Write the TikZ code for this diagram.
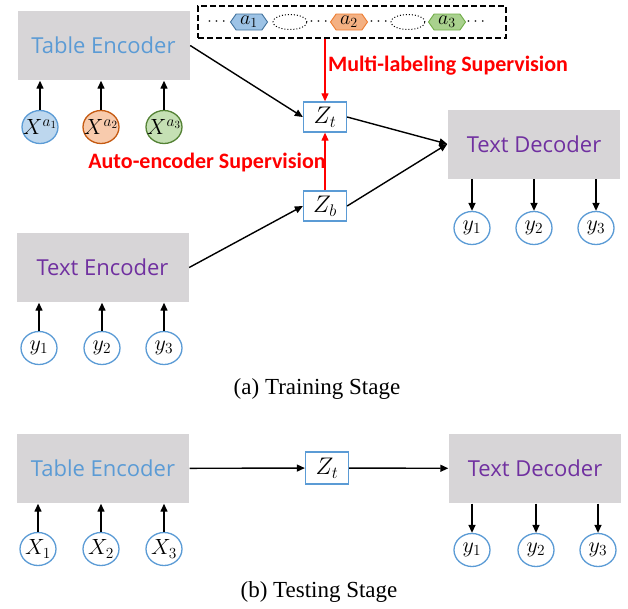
\RequirePackage{fix-cm}
\documentclass[tikz,border=0pt]{standalone}
\usepackage{amsmath}
\usepackage{fontspec}
\setmainfont{Liberation Serif}
\newfontfamily\boxfont{Open Sans}
\newfontfamily\supfont{Carlito}
\usetikzlibrary{arrows.meta}
\usetikzlibrary{shapes.geometric,shapes.symbols,positioning}

\definecolor{tblue}{RGB}{91,155,213}
\definecolor{tpurple}{RGB}{112,48,160}
\definecolor{boxgray}{RGB}{215,213,215}
\definecolor{supred}{RGB}{255,0,0}
\definecolor{xafill}{RGB}{189,215,238}
\definecolor{xbfill}{RGB}{248,203,173}
\definecolor{xbline}{RGB}{197,90,17}
\definecolor{xcfill}{RGB}{197,224,180}
\definecolor{xcline}{RGB}{84,130,53}
\definecolor{hafill}{RGB}{157,195,230}
\definecolor{haline}{RGB}{65,113,156}
\definecolor{hbfill}{RGB}{244,177,131}
\definecolor{hbline}{RGB}{237,125,49}
\definecolor{hcfill}{RGB}{169,209,142}
\definecolor{hcline}{RGB}{112,173,71}

\begin{document}
\begin{tikzpicture}[x=1pt,y=-1pt,->,>={Triangle[length=8pt,width=7pt]},line width=1.4pt,
  module/.style={fill=boxgray,minimum width=172pt,minimum height=69pt,font=\boxfont\fontsize{22}{26}\selectfont},
  var/.style={ellipse,draw=tblue,line width=1.3pt,minimum width=36pt,minimum height=33pt,inner sep=-6pt,font=\fontsize{22}{24}\selectfont},
  latent/.style={draw=tblue,fill=white,line width=1.3pt,minimum width=43pt,minimum height=30pt,inner sep=0pt,font=\fontsize{24}{24}\selectfont},
  attr/.style={signal,signal to=west and east,signal pointer angle=110,line width=0.9pt,minimum width=37pt,minimum height=16pt,inner sep=-1pt,font=\fontsize{20}{20}\selectfont},
  slot/.style={ellipse,draw,dotted,line width=1pt,minimum width=34pt,minimum height=15pt},
  gap/.style={font=\fontsize{16}{16}\selectfont},
  sup/.style={text=supred,font=\supfont\bfseries\fontsize{22}{26}\selectfont},
  stage/.style={font=\fontsize{23}{26}\selectfont}]
  \useasboundingbox (0,0) rectangle (628,608);

  % (a) training
  \node[module,text=tblue] (tenc) at (103.5,45.5) {Table Encoder};
  \node[var,fill=xafill] (xa1) at (40,127) {$X^{a_1}$};
  \node[var,fill=xbfill,draw=xbline] (xa2) at (101,127) {$X^{a_2}$};
  \node[var,fill=xcfill,draw=xcline] (xa3) at (164,127) {$X^{a_3}$};

  \node[draw,dashed,dash pattern=on 6pt off 3pt,minimum width=308pt,minimum height=32pt] (labels) at (352,22) {};
  \node[gap] (g1) at (218,22) {$\cdots$};
  \node[attr,fill=hafill,draw=haline] (h1) at (249,22) {$a_1$};
  \node[slot] (s1) at (290,22) {};
  \node[gap] (g2) at (320,22) {$\cdots$};
  \node[attr,fill=hbfill,draw=hbline] (h2) at (349,22) {$a_2$};
  \node[gap] (g3) at (380,22) {$\cdots$};
  \node[slot] (s2) at (408,22) {};
  \node[attr,fill=hcfill,draw=hcline] (h3) at (447,22) {$a_3$};
  \node[gap] (g4) at (477,22) {$\cdots$};

  \node[latent] (zt) at (325,117) {$Z_t$};
  \node[latent] (zb) at (325,206) {$Z_b$};
  \node[sup] (ml) at (448,66) {Multi-labeling Supervision};
  \node[sup] (ae) at (207,163) {Auto-encoder Supervision};

  \node[module,text=tpurple] (tdec) at (534,144) {Text Decoder};
  \node[var] (oy1) at (472,228) {$y_1$};
  \node[var] (oy2) at (534,228) {$y_2$};
  \node[var] (oy3) at (596,228) {$y_3$};

  \node[module,text=tpurple] (xenc) at (102.5,267.5) {Text Encoder};
  \node[var] (iy1) at (39,348) {$y_1$};
  \node[var] (iy2) at (102,348) {$y_2$};
  \node[var] (iy3) at (164,348) {$y_3$};

  \node[stage] (capa) at (317,389) {(a) Training Stage};

  \draw (xa1) -- (xa1 |- tenc.south);
  \draw (xa2) -- (xa2 |- tenc.south);
  \draw (xa3) -- (xa3 |- tenc.south);
  \draw (iy1) -- (iy1 |- xenc.south);
  \draw (iy2) -- (iy2 |- xenc.south);
  \draw (iy3) -- (iy3 |- xenc.south);
  \draw (oy1 |- tdec.south) -- (oy1);
  \draw (oy2 |- tdec.south) -- (oy2);
  \draw (oy3 |- tdec.south) -- (oy3);
  \draw (tenc.east) -- (zt.west);
  \draw (xenc.east) -- (zb.west);
  \draw (zt.east) -- (tdec.west);
  \draw (zb.east) -- (tdec.west);
  \draw[supred,line width=1.2pt] (labels.south -| zt) -- (zt);
  \draw[supred,line width=1.2pt] (zb) -- (zt);

  % (b) testing
  \node[module,text=tblue] (tenc2) at (103,468.5) {Table Encoder};
  \node[var] (x1) at (38,549) {$X_1$};
  \node[var] (x2) at (101,549) {$X_2$};
  \node[var] (x3) at (164,549) {$X_3$};
  \node[latent,minimum height=32pt] (zt2) at (327,468) {$Z_t$};
  \node[module,text=tpurple] (tdec2) at (535,468.5) {Text Decoder};
  \node[var] (ty1) at (472,550) {$y_1$};
  \node[var] (ty2) at (536,550) {$y_2$};
  \node[var] (ty3) at (598,550) {$y_3$};
  \node[stage] (capb) at (319,592) {(b) Testing Stage};

  \draw (x1) -- (x1 |- tenc2.south);
  \draw (x2) -- (x2 |- tenc2.south);
  \draw (x3) -- (x3 |- tenc2.south);
  \draw (ty1 |- tdec2.south) -- (ty1);
  \draw (ty2 |- tdec2.south) -- (ty2);
  \draw (ty3 |- tdec2.south) -- (ty3);
  \draw (tenc2) -- (zt2);
  \draw (zt2) -- (tdec2);
\end{tikzpicture}
\end{document}
